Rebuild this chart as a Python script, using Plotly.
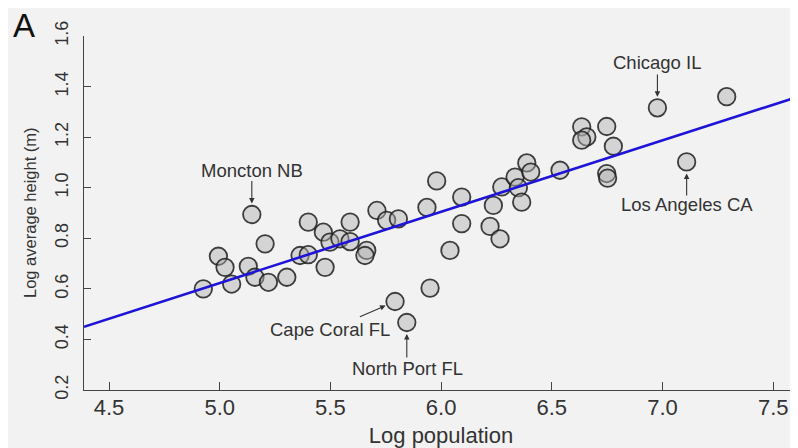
import plotly.graph_objects as go

# Data
log_population = [4.926, 4.994, 5.024, 5.054, 5.129, 5.145, 5.159, 5.205, 5.220, 5.303,
                  5.363, 5.400, 5.400, 5.468, 5.476, 5.498, 5.543, 5.589, 5.589, 5.664,
                  5.656, 5.710, 5.754, 5.792, 5.807, 5.845, 5.936, 5.950, 5.980, 6.040,
                  6.093, 6.093, 6.221, 6.236, 6.266, 6.274, 6.334, 6.349, 6.364, 6.387,
                  6.405, 6.537, 6.635, 6.658, 6.635, 6.748, 6.778, 6.748, 6.752, 6.977,
                  7.109, 7.290]
log_height = [0.600, 0.729, 0.685, 0.619, 0.689, 0.894, 0.646, 0.778, 0.626, 0.646,
              0.732, 0.735, 0.864, 0.824, 0.685, 0.785, 0.798, 0.787, 0.864, 0.752,
              0.732, 0.910, 0.871, 0.550, 0.877, 0.467, 0.922, 0.603, 1.027, 0.752,
              0.963, 0.858, 0.847, 0.930, 0.798, 1.003, 1.042, 1.000, 0.943, 1.098,
              1.062, 1.069, 1.241, 1.201, 1.188, 1.242, 1.164, 1.056, 1.038, 1.316,
              1.102, 1.360]

labels = ["Moncton NB", "Chicago IL", "Los Angeles CA", "Cape Coral FL", "North Port FL"]
label_x = [5.145, 6.977, 7.109, 5.792, 5.845]
label_y = [0.894, 1.316, 1.102, 0.550, 0.467]

fit_slope = 0.282
fit_intercept = -0.787

x_range = [4.387, 7.612]
y_range = [0.2, 1.6]
x_ticks = [4.5, 5.0, 5.5, 6.0, 6.5, 7.0, 7.5]
y_ticks = [0.2, 0.4, 0.6, 0.8, 1.0, 1.2, 1.4, 1.6]

FONT = "Liberation Sans, Arial, sans-serif"
TXT = "#333333"
BG = "#f2f2f2"

# the page body adds an 8px offset, so the figure is sized to fill the window
W, H = 790, 440
ML, MR, MT, MB = 76, 0, 28, 58
PW, PH = W - ML - MR, H - MT - MB

fig = go.Figure()
fig.add_trace(go.Scatter(
    x=log_population, y=log_height, mode="markers",
    marker=dict(size=17.5, color="rgba(175,175,175,0.45)",
                line=dict(color="rgba(30,30,30,0.85)", width=1.8)),
    showlegend=False, hoverinfo="skip"))

fit_x = x_range
fit_y = [fit_intercept + fit_slope * v for v in fit_x]
fig.add_trace(go.Scatter(x=fit_x, y=fit_y, mode="lines",
                         line=dict(color="rgb(30,20,215)", width=2.6),
                         showlegend=False, hoverinfo="skip"))

# label text placement (pixel shifts from each point) and arrow tails
text_shift = [(0, 44), (-0.6, 45), (0, -42.3), (-65, -27.6), (0.8, -45.6)]
arrow_tail = [(0, -35), (0, -34.7), (0, 35), (-36.7, 16), (0, 36.6)]
arrow_standoff = [11, 11, 11.6, 10.3, 11.6]
for name, lx, ly, (xs, ys), (ax, ay), so in zip(labels, label_x, label_y,
                                                  text_shift, arrow_tail, arrow_standoff):
    fig.add_annotation(x=lx, y=ly, text=name, showarrow=False, xshift=xs, yshift=ys,
                       font=dict(family=FONT, size=18.5, color=TXT))
    fig.add_annotation(x=lx, y=ly, text="", showarrow=True, ax=ax, ay=ay,
                       arrowhead=2, arrowsize=1.0, arrowwidth=1.1, arrowcolor="#333",
                       standoff=so)

# panel letter
fig.add_annotation(x=(16 - ML) / PW, y=1 + (MT - 17) / PH, xref="paper", yref="paper",
                   text="A", showarrow=False, xanchor="center", yanchor="middle",
                   borderpad=0,
                   font=dict(family=FONT, size=33, color="#111"))

# y-axis title, placed as rotated text left of the tick labels
fig.add_annotation(x=(22 - ML) / PW, y=0.5, xref="paper", yref="paper",
                   text="Log average height (m)", showarrow=False, textangle=-90,
                   xanchor="center", yanchor="middle",
                   font=dict(family=FONT, size=16.5, color=TXT))

fig.update_layout(
    width=W, height=H,
    margin=dict(l=ML, r=MR, t=MT, b=MB, autoexpand=False),
    paper_bgcolor=BG, plot_bgcolor=BG,
    font=dict(family=FONT, color=TXT, size=17),
    xaxis=dict(range=x_range, tickvals=x_ticks, ticktext=[f"{v:.1f}" for v in x_ticks],
               automargin=False,
               showgrid=False, zeroline=False, showline=True, linecolor="#444", linewidth=1.3,
               ticks="inside", ticklen=8, tickcolor="#444", tickwidth=1.3,
               ticklabelstandoff=-3,
               tickfont=dict(size=22, color=TXT),
               title=dict(text="Log population", font=dict(size=22, color=TXT), standoff=12)),
    yaxis=dict(range=y_range, tickvals=y_ticks, ticktext=[f"{v:.1f}" for v in y_ticks],
               automargin=False,
               showgrid=False, zeroline=False, showline=True, linecolor="#444", linewidth=1.3,
               ticks="inside", ticklen=7, tickcolor="#444", tickwidth=1.3, tickangle=-90,
               ticklabelstandoff=8,
               tickfont=dict(size=18, color=TXT)),
)

fig.write_html("out.html")
